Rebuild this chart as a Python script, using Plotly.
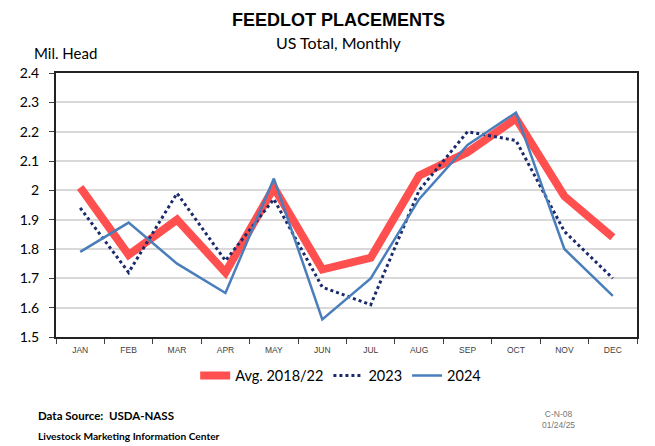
import plotly.graph_objects as go

months = ["JAN", "FEB", "MAR", "APR", "MAY", "JUN", "JUL", "AUG", "SEP", "OCT", "NOV", "DEC"]
avg_2018_22 = [2.01, 1.78, 1.90, 1.72, 2.01, 1.73, 1.77, 2.05, 2.13, 2.245, 1.98, 1.84]
y2023 = [1.94, 1.72, 1.99, 1.76, 1.97, 1.67, 1.61, 2.00, 2.20, 2.17, 1.86, 1.70]
y2024 = [1.79, 1.89, 1.75, 1.65, 2.04, 1.56, 1.70, 1.97, 2.155, 2.265, 1.80, 1.64]

fig = go.Figure()
fig.add_trace(go.Scatter(x=months, y=avg_2018_22, mode="lines", name="Avg. 2018/22",
                         line=dict(color="#FF4F4F", width=8)))
fig.add_trace(go.Scatter(x=months, y=y2023, mode="lines", name="2023",
                         line=dict(color="#1B2A6B", width=3, dash="dot")))
fig.add_trace(go.Scatter(x=months, y=y2024, mode="lines", name="2024",
                         line=dict(color="#4A7EBB", width=2.5)))

# page body adds an 8px margin, so the figure is sized/offset to compensate
fig.update_layout(
    width=647, height=438,
    margin=dict(l=48, r=18, t=65, b=109),
    paper_bgcolor="white", plot_bgcolor="white",
    font=dict(family="Lato, Liberation Sans, sans-serif", color="#000000"),
    showlegend=True,
    legend=dict(orientation="h", x=0.49, xanchor="center", y=-0.146, yanchor="middle",
                font=dict(size=14.5, family="Lato, sans-serif"),
                bgcolor="rgba(0,0,0,0)"),
    xaxis=dict(type="category", range=[-0.5, 11.5], tickson="boundaries", ticks="outside",
               ticklen=5, tickcolor="#404040", showgrid=False, showline=True,
               linecolor="#222222", linewidth=2, mirror=True, ticklabelstandoff=4,
               tickfont=dict(size=8.5, color="#404040",
                             family="Liberation Sans Narrow, Liberation Sans, sans-serif")),
    yaxis=dict(range=[1.5, 2.4], dtick=0.1, ticks="outside", ticklen=5, tickcolor="#404040",
               showgrid=True, gridcolor="#D9D9D9", gridwidth=1.8, ticklabelstandoff=7,
               showline=True, linecolor="#222222", linewidth=2, mirror=True,
               tickfont=dict(size=14, family="Lato, sans-serif", color="#000000"),
               zeroline=False),
    annotations=[
        dict(text="<b>FEEDLOT PLACEMENTS</b>", xref="paper", yref="paper", x=0.487, y=1.20,
             yanchor="middle", showarrow=False,
             font=dict(size=18, family="Liberation Sans, Arial, sans-serif")),
        dict(text="US Total, Monthly", xref="paper", yref="paper", x=0.487, y=1.117,
             yanchor="middle", showarrow=False, font=dict(size=16, family="Lato, sans-serif")),
        dict(text="Mil. Head", xref="paper", yref="paper", x=-0.042, y=1.076, xanchor="left",
             yanchor="middle", showarrow=False, font=dict(size=15, family="Lato, sans-serif")),
        dict(text="<b>Data Source:  USDA-NASS</b>", xref="paper", yref="paper", x=-0.035,
             y=-0.299, xanchor="left", yanchor="middle", showarrow=False,
             font=dict(size=11.5, family="Lato, sans-serif")),
        dict(text="<b>Livestock Marketing Information Center</b>", xref="paper", yref="paper",
             x=-0.035, y=-0.375, xanchor="left", yanchor="middle", showarrow=False,
             font=dict(size=10.2, family="Lato, sans-serif")),
        dict(text="C-N-08<br>01/24/25", xref="paper", yref="paper", x=0.897, y=-0.311,
             yanchor="middle", showarrow=False, align="center",
             font=dict(size=8.5, color="#777777", family="Liberation Sans, sans-serif")),
    ],
)

fig.write_html("out.html")
